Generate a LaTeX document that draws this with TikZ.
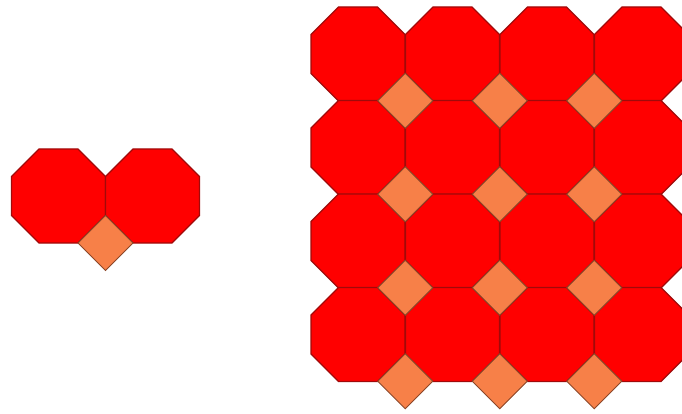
\documentclass[tikz,border=0pt]{standalone}
\definecolor{octfill}{RGB}{255,0,0}
\definecolor{octline}{RGB}{160,10,10}
\definecolor{sqfill}{RGB}{247,128,72}
\definecolor{sqline}{RGB}{140,70,40}
\tikzset{
  octo/.style={fill=octfill,draw=octline,line width=1.2pt,line join=miter},
  sqr/.style={fill=sqfill,draw=sqline,line width=0.9pt,line join=miter},
  octagon/.pic={\path[octo] (47,19.47) -- (19.47,47) -- (-19.47,47) -- (-47,19.47) -- (-47,-19.47) -- (-19.47,-47) -- (19.47,-47) -- (47,-19.47) -- cycle;},
  diamondsq/.pic={\path[sqr] (0,-27.5) -- (27.5,0) -- (0,27.5) -- (-27.5,0) -- cycle;}
}
\begin{document}
\begin{tikzpicture}[x=1pt,y=-1pt]
\useasboundingbox (0,0) rectangle (682,414);
% left pair
\pic at (58.5,196) {octagon};
\pic at (152.5,196) {octagon};
\pic at (105.5,243) {diamondsq};
% right tiling
\begin{scope}
\clip (0,0) rectangle (682,414);
\foreach \i in {0,...,3}{
  \foreach \j in {0,...,3}{
    \pic at ({358+94.5*\i},{54+93.5*\j}) {octagon};
  }
}
\foreach \i in {0,...,2}{
  \foreach \j in {0,...,3}{
    \pic at ({405.25+94.5*\i},{100.75+93.5*\j}) {diamondsq};
  }
}
\end{scope}
\end{tikzpicture}
\end{document}
